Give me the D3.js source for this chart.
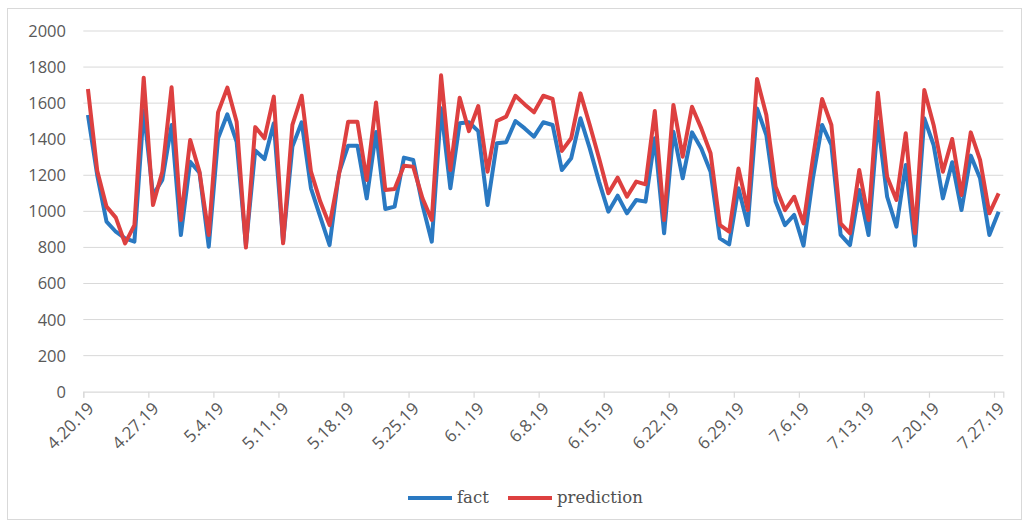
<!DOCTYPE html>
<html>
<head>
<meta charset="utf-8">
<script src="https://cdn.jsdelivr.net/npm/d3@7"></script>
<style>
  body { margin: 0; background: #fff; }
  svg { display: block; }
</style>
</head>
<body>
<script>
// daily values, 4.20.19 .. 7.27.19
var startDate = new Date(2019, 3, 20);
var dayCount = 99;

var fact = [
  1534, 1200, 943, 887, 850, 832, 1560, 1090, 1174, 1479,
  869, 1275, 1215, 804, 1405, 1538, 1386, 810, 1338, 1290,
  1488, 830, 1359, 1494, 1128, 970, 813, 1210, 1364, 1364,
  1072, 1440, 1013, 1026, 1298, 1285, 1035, 832, 1571, 1128,
  1488, 1494, 1445, 1035, 1377, 1383, 1501, 1460, 1414, 1494,
  1479, 1229, 1294, 1516, 1349, 1165, 998, 1087, 989, 1063,
  1054, 1405, 878, 1442, 1183, 1438, 1349, 1220, 850, 817,
  1128, 924, 1571, 1423, 1054, 924, 980, 810, 1180, 1479,
  1368, 869, 813, 1118, 869, 1497, 1081, 915, 1257, 810,
  1516, 1368, 1072, 1272, 1007, 1309, 1183, 869, 998
];
var prediction = [
  1678, 1225, 1026, 965, 822, 924, 1741, 1035, 1220, 1688,
  952, 1396, 1220, 869, 1549, 1686, 1497, 799, 1467, 1405,
  1636, 823, 1479, 1641, 1220, 1054, 924, 1201, 1497, 1497,
  1174, 1604, 1118, 1124, 1253, 1248, 1072, 952, 1754, 1229,
  1630, 1445, 1584, 1220, 1501, 1525, 1641, 1593, 1549, 1641,
  1623, 1335, 1405, 1654, 1479, 1294, 1100, 1187, 1081, 1165,
  1150, 1556, 952, 1590, 1303, 1580, 1460, 1322, 924, 887,
  1238, 1007, 1734, 1534, 1137, 1007, 1081, 933, 1290, 1623,
  1479, 933, 878, 1229, 952, 1658, 1192, 1063, 1433, 878,
  1673, 1479, 1220, 1401, 1091, 1438, 1285, 989, 1100
];
var yTicks = [0, 200, 400, 600, 800, 1000, 1200, 1400, 1600, 1800, 2000];
var seriesNames = ["fact", "prediction"];
var seriesColors = ["#2a79c2", "#dd4040"];

var w = 1029, h = 527;
var plotLeft = 83.3, plotRight = 1003.3, plotTop = 31, plotBottom = 391.7;

var svg = d3.select("body").append("svg")
    .attr("width", w)
    .attr("height", h);

/* chart border */
svg.append("rect")
    .attr("x", 7.5).attr("y", 8.5)
    .attr("width", 1014).attr("height", 511)
    .attr("fill", "#fff")
    .attr("stroke", "#d9d9d9");

var dates = d3.range(dayCount).map(function(i) { return d3.timeDay.offset(startDate, i); });

var x = d3.scaleTime()
    .domain([startDate, d3.timeDay.offset(startDate, dayCount)])
    .range([plotLeft, plotRight]);
var y = d3.scaleLinear().domain([0, 2000]).range([plotBottom, plotTop]);

/* points sit in the middle of each day */
function xp(i) { return x(d3.timeHour.offset(dates[i], 12)); }

/* gridlines */
svg.append("g").selectAll("line")
    .data(yTicks.filter(function(t) { return t > 0; }))
    .enter().append("line")
    .attr("x1", plotLeft).attr("x2", plotRight)
    .attr("y1", function(d) { return y(d); })
    .attr("y2", function(d) { return y(d); })
    .attr("stroke", "#d9d9d9")
    .attr("stroke-width", 1);

/* y labels */
svg.append("g").selectAll("text")
    .data(yTicks)
    .enter().append("text")
    .attr("x", 66)
    .attr("y", function(d) { return y(d); })
    .attr("dy", "0.36em")
    .attr("text-anchor", "end")
    .attr("font-family", "'Open Sans', sans-serif")
    .attr("font-size", 16.5)
    .attr("fill", "#595959")
    .text(function(d) { return d; });

/* x axis */
var tickDates = d3.range(0, dayCount, 7).map(function(i) { return dates[i]; });
var fmt = d3.timeFormat("%-m.%-d.%y");

var xAxis = svg.append("g")
    .attr("transform", "translate(0," + plotBottom + ")")
    .call(d3.axisBottom(x).tickValues(tickDates).tickSize(6).tickFormat(fmt));
xAxis.select(".domain").attr("stroke", "#d9d9d9").attr("stroke-width", 1.2);
xAxis.selectAll(".tick line").attr("stroke", "#d9d9d9").attr("stroke-width", 1.2);
xAxis.selectAll(".tick text")
    .attr("font-family", "'Open Sans', sans-serif")
    .attr("font-size", 17)
    .attr("fill", "#595959")
    .attr("text-anchor", "end")
    .attr("dx", 0).attr("dy", 0)
    .attr("y", 0)
    .attr("transform", "translate(11,18) rotate(-45)");

/* lines */
var line = d3.line()
    .x(function(d, i) { return xp(i); })
    .y(function(d) { return y(d); });

[fact, prediction].forEach(function(vals, k) {
  svg.append("path")
      .datum(vals)
      .attr("d", line)
      .attr("fill", "none")
      .attr("stroke", seriesColors[k])
      .attr("stroke-width", 4)
      .attr("stroke-linejoin", "round");
});

/* legend */
var legendX = [408, 508];
var lg = svg.append("g");
seriesNames.forEach(function(name, k) {
  lg.append("line")
      .attr("x1", legendX[k]).attr("x2", legendX[k] + 44)
      .attr("y1", 498).attr("y2", 498)
      .attr("stroke", seriesColors[k])
      .attr("stroke-width", 4);
  lg.append("text")
      .attr("x", legendX[k] + 49)
      .attr("y", 498)
      .attr("dy", "0.32em")
      .attr("font-family", "'DejaVu Serif', serif")
      .attr("font-size", 16.5)
      .attr("fill", "#505050")
      .text(name);
});
</script>
</body>
</html>
